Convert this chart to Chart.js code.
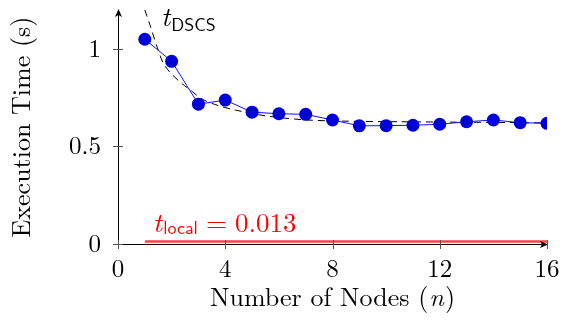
<!DOCTYPE html>
<html>
<head>
<meta charset="utf-8">
<script src="https://cdn.jsdelivr.net/npm/chart.js@4"></script>
<style>
  html, body { margin: 0; padding: 0; background: #fff; }
  #wrap { width: 570px; height: 320px; }
</style>
</head>
<body>
<div id="wrap"><canvas id="timechart" width="570" height="320"></canvas></div>
<script>
// measured execution time per node count
const nodes = [1, 2, 3, 4, 5, 6, 7, 8, 9, 10, 11, 12, 13, 14, 15, 16];
const times = [1.05, 0.937, 0.717, 0.738, 0.676, 0.668, 0.665, 0.636, 0.606, 0.607, 0.609, 0.614, 0.627, 0.636, 0.622, 0.619];

// t_DSCS model curve
const dscsN = [1.0, 1.2, 1.46, 1.68, 1.94, 2.32, 2.69, 3.18, 3.74, 4.37, 5.56, 7.05, 8.5, 10.5, 12.5, 14.5, 16];
const dscsT = [1.2, 1.12, 1.01, 0.93, 0.88, 0.83, 0.79, 0.74, 0.71, 0.687, 0.656, 0.636, 0.63, 0.627, 0.625, 0.623, 0.621];

// t_local reference line
const localN = [1, 16];
const localT = [0.013, 0.013];

const xTicks = [0, 4, 8, 12, 16];
const yTicks = [0, 0.5, 1];

const serif = '"Latin Modern Roman", "Liberation Serif", serif';
const sans = '"Latin Modern Sans", "DejaVu Sans", sans-serif';

function pts(xs, ys) {
  return xs.map((x, i) => ({ x: x, y: ys[i] }));
}

const axesPlugin = {
  id: 'axesPlugin',
  afterDatasetsDraw(chart) {
    const ctx = chart.ctx;
    const xs = chart.scales.x, ys = chart.scales.y;
    const x0 = xs.getPixelForValue(0), x1 = xs.right;
    const y0 = ys.getPixelForValue(0), y1 = ys.top;
    ctx.save();
    ctx.strokeStyle = '#000';
    ctx.fillStyle = '#000';
    ctx.lineWidth = 1;
    // axis lines
    ctx.beginPath();
    ctx.moveTo(x0 + 0.5, y0 + 0.5); ctx.lineTo(x1, y0 + 0.5);
    ctx.moveTo(x0 + 0.5, y0 + 0.5); ctx.lineTo(x0 + 0.5, y1);
    ctx.stroke();
    // arrow heads
    ctx.beginPath();
    ctx.moveTo(x1 + 1, y0 + 0.5);
    ctx.lineTo(x1 - 7, y0 - 3);
    ctx.lineTo(x1 - 5, y0 + 0.5);
    ctx.lineTo(x1 - 7, y0 + 4);
    ctx.closePath(); ctx.fill();
    ctx.beginPath();
    ctx.moveTo(x0 + 0.5, y1 - 1);
    ctx.lineTo(x0 - 3, y1 + 7);
    ctx.lineTo(x0 + 0.5, y1 + 5);
    ctx.lineTo(x0 + 4, y1 + 7);
    ctx.closePath(); ctx.fill();
    // tick marks crossing the axes
    ctx.strokeStyle = '#555';
    ctx.beginPath();
    xTicks.forEach(v => {
      const p = Math.round(xs.getPixelForValue(v)) + 0.5;
      ctx.moveTo(p, y0 - 4); ctx.lineTo(p, y0 + 5);
    });
    yTicks.forEach(v => {
      const p = Math.round(ys.getPixelForValue(v)) + 0.5;
      ctx.moveTo(x0 - 5, p); ctx.lineTo(x0 + 5, p);
    });
    ctx.stroke();

    ctx.textBaseline = 'alphabetic';
    ctx.textAlign = 'left';
    ctx.fillStyle = '#000';

    // x axis title with italic n
    ctx.font = '26px ' + serif;
    const a = 'Number of Nodes (', c = ')';
    const wa = ctx.measureText(a).width, wc = ctx.measureText(c).width;
    ctx.font = 'italic 26px ' + serif;
    const wb = ctx.measureText('n').width + 2;
    let tx = (xs.left + xs.right) / 2 - (wa + wb + wc) / 2;
    const ty = 306;
    ctx.font = '26px ' + serif;
    ctx.fillText(a, tx, ty);
    ctx.font = 'italic 26px ' + serif;
    ctx.fillText('n', tx + wa + 1, ty);
    ctx.font = '26px ' + serif;
    ctx.fillText(c, tx + wa + wb, ty);

    // t_DSCS
    let lx = xs.getPixelForValue(1.6), ly = ys.getPixelForValue(1.12);
    ctx.font = 'italic 28px ' + serif;
    ctx.fillText('t', lx, ly);
    lx += ctx.measureText('t').width + 1;
    ctx.font = '18px ' + sans;
    ctx.fillText('DSCS', lx, ly + 5);

    // t_local = 0.013
    lx = xs.getPixelForValue(1.3); ly = ys.getPixelForValue(0.06);
    ctx.fillStyle = '#ff0000';
    ctx.font = 'italic 28px ' + serif;
    ctx.fillText('t', lx, ly);
    lx += ctx.measureText('t').width + 1;
    ctx.font = '18px ' + sans;
    ctx.fillText('local', lx, ly + 2);
    lx += ctx.measureText('local').width + 8;
    ctx.font = '27px ' + serif;
    ctx.fillText('=', lx, ly);
    lx += ctx.measureText('=').width + 8;
    ctx.fillText('0.013', lx, ly);
    ctx.restore();
  }
};

const data = {
  datasets: [
    {
      label: 'local',
      data: pts(localN, localT),
      showLine: true,
      borderColor: 'rgba(255, 0, 0, 0.75)',
      borderWidth: 2.5,
      pointRadius: 0,
      order: 3
    },
    {
      label: 'DSCS',
      data: pts(dscsN, dscsT),
      showLine: true,
      borderColor: '#000',
      borderWidth: 1,
      borderDash: [7, 5],
      pointRadius: 0,
      tension: 0.3,
      order: 2
    },
    {
      label: 'Execution time',
      data: pts(nodes, times),
      showLine: true,
      borderColor: '#1010ff',
      borderWidth: 1,
      pointRadius: 6.5,
      pointBackgroundColor: '#0000d8',
      pointBorderWidth: 0,
      order: 1
    }
  ]
};

const config = {
  type: 'scatter',
  data: data,
  options: {
    responsive: false,
    animation: false,
    layout: { padding: { left: 0, right: 23, top: 10, bottom: 0 } },
    plugins: {
      legend: { display: false },
      tooltip: { enabled: false }
    },
    scales: {
      x: {
        type: 'linear',
        min: 0,
        max: 16,
        border: { display: false },
        grid: { display: false, drawTicks: false },
        afterBuildTicks: s => { s.ticks = xTicks.map(v => ({ value: v })); },
        afterFit: s => { s.height = 76; s.paddingLeft = 0; s.paddingRight = 0; },
        ticks: {
          color: '#000',
          padding: 10,
          font: { family: serif, size: 25 }
        }
      },
      y: {
        type: 'linear',
        min: 0,
        max: 1.2,
        border: { display: false },
        grid: { display: false, drawTicks: false },
        afterBuildTicks: s => { s.ticks = yTicks.map(v => ({ value: v })); },
        afterFit: s => { s.width = 118; s.paddingTop = 0; s.paddingBottom = 0; },
        ticks: {
          color: '#000',
          padding: 17,
          font: { family: serif, size: 25 },
          callback: v => String(v)
        },
        title: {
          display: true,
          text: 'Execution Time (s)',
          color: '#000',
          padding: { top: 6, bottom: 0 },
          font: { family: serif, size: 26 }
        }
      }
    }
  },
  plugins: [axesPlugin]
};

const ctx = document.getElementById('timechart').getContext('2d');
const chart = new Chart(ctx, config);
</script>
</body>
</html>
